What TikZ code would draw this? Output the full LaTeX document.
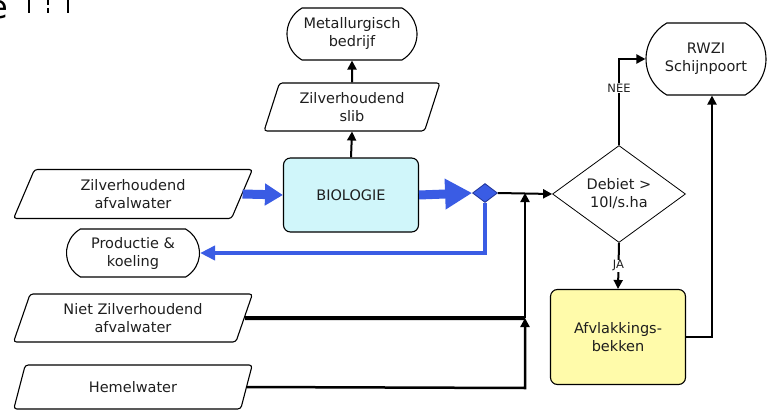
\documentclass[tikz,border=0pt]{standalone}
\usepackage{fontspec}
\setmainfont{DejaVu Sans}
\usetikzlibrary{shapes.geometric,shapes.misc,arrows.meta,calc}
\definecolor{flowblue}{RGB}{58,92,228}
\definecolor{darkblue}{RGB}{30,50,150}
\definecolor{biocyan}{RGB}{208,246,250}
\definecolor{afvyellow}{RGB}{255,251,170}
\definecolor{txt}{RGB}{30,30,30}
\tikzset{
  iobox/.style={trapezium, trapezium left angle=70, trapezium right angle=110,
    trapezium stretches=true, draw=black, line width=1.1pt, rounded corners=3pt,
    align=center, text=txt, inner sep=1pt},
  termbox/.style={rounded rectangle, rounded rectangle arc length=120, draw=black,
    line width=1.1pt, align=center, text=txt, inner sep=1pt},
  procbox/.style={rectangle, rounded corners=7pt, draw=black, line width=1.1pt,
    align=center, text=txt},
  decbox/.style={diamond, draw=black, line width=0.8pt, align=center, text=txt, inner sep=0pt},
  blk/.style={draw=black, line width=2pt, -{Triangle[length=9pt,width=9pt]}},
  bigblue/.style={draw=flowblue, line width=9pt, -{Triangle[length=27pt,width=29pt]}},
  midblue/.style={draw=flowblue, line width=9pt, -{Triangle[length=18pt,width=21pt]}},
  thinblue/.style={draw=flowblue, line width=4.5pt, -{Triangle[length=15pt,width=14pt]}},
  lbl/.style={fill=white, inner sep=1pt, text=txt, font=\fontsize{11.5}{13}\selectfont},
}
\begin{document}
\begin{tikzpicture}[x=1pt,y=-1pt,font=\fontsize{14.5}{18}\selectfont]
\useasboundingbox (0,0) rectangle (768,412);
\clip (0,0) rectangle (768,412);

% cut-off title fragment
\node[anchor=base east, inner sep=0pt, font=\fontsize{32}{32}\selectfont] (title) at (8,19) {e};
\draw[line width=2.5pt] (29,0) -- (29,13);
\draw[line width=2.5pt] (48,0) -- (48,5) (48,8) -- (48,13);
\draw[line width=2.5pt] (68,0) -- (68,13);

% nodes
\node[termbox, minimum width=132pt, minimum height=52pt] (metal) at (352,34) {Metallurgisch\\bedrijf};
\node[iobox, minimum width=176pt, minimum height=48pt] (slib) at (352,107) {Zilverhoudend\\slib};
\node[procbox, fill=biocyan, minimum width=135pt, minimum height=74pt] (bio) at (351,195) {BIOLOGIE};
\node[iobox, minimum width=239pt, minimum height=49pt] (zaf) at (133,194) {Zilverhoudend\\afvalwater};
\node[termbox, minimum width=135pt, minimum height=48pt] (prod) at (133,253) {Productie \&\\koeling};
\node[iobox, minimum width=239pt, minimum height=48pt] (niet) at (133,318) {Niet Zilverhoudend\\afvalwater};
\node[iobox, minimum width=239pt, minimum height=44pt] (hemel) at (133,387) {Hemelwater};
\node[diamond, draw=darkblue, fill=flowblue, line width=0.8pt, minimum width=25pt, minimum height=19pt, inner sep=0pt] (split) at (485,193) {};
\node[decbox, minimum width=133pt, minimum height=97pt] (deb) at (619,194) {Debiet >\\10l/s.ha};
\node[termbox, minimum width=122pt, minimum height=72pt] (rwzi) at (706,59) {RWZI\\Schijnpoort};
\node[procbox, fill=afvyellow, minimum width=135pt, minimum height=95pt] (afv) at (618,337) {Afvlakkings-\\bekken};

\coordinate (j1) at (525,193);
\coordinate (j2) at (525,318);
\coordinate (j3) at (525,388);
\coordinate (rin) at ($(rwzi.south)+(6,0)$);

% connectors
\draw[blk] (slib.north) -- (metal.south);
\draw[blk] (bio.north) -- (slib.south);
\draw[midblue] (zaf.east) -- (bio.west);
\draw[bigblue] (bio.east) -- (split.west);
\draw[thinblue] (split.south) |- (prod.east);
\draw[blk] (split.east) -- (deb.west);
\draw[draw=black, line width=4pt] (niet.east) -- (j2);
\draw[blk, line width=2.5pt] (hemel.east) -- (j3) -- (j2);
\draw[blk, line width=2.5pt] (j2) -- (j1);
\draw[blk] (deb.north) |- (rwzi.west) node[lbl, pos=0.33] (nee) {NEE};
\draw[blk] (deb.south) -- (afv.north) node[lbl, pos=0.5] (ja) {JA};
\draw[blk] (afv.east) -| (rin);
\end{tikzpicture}
\end{document}
